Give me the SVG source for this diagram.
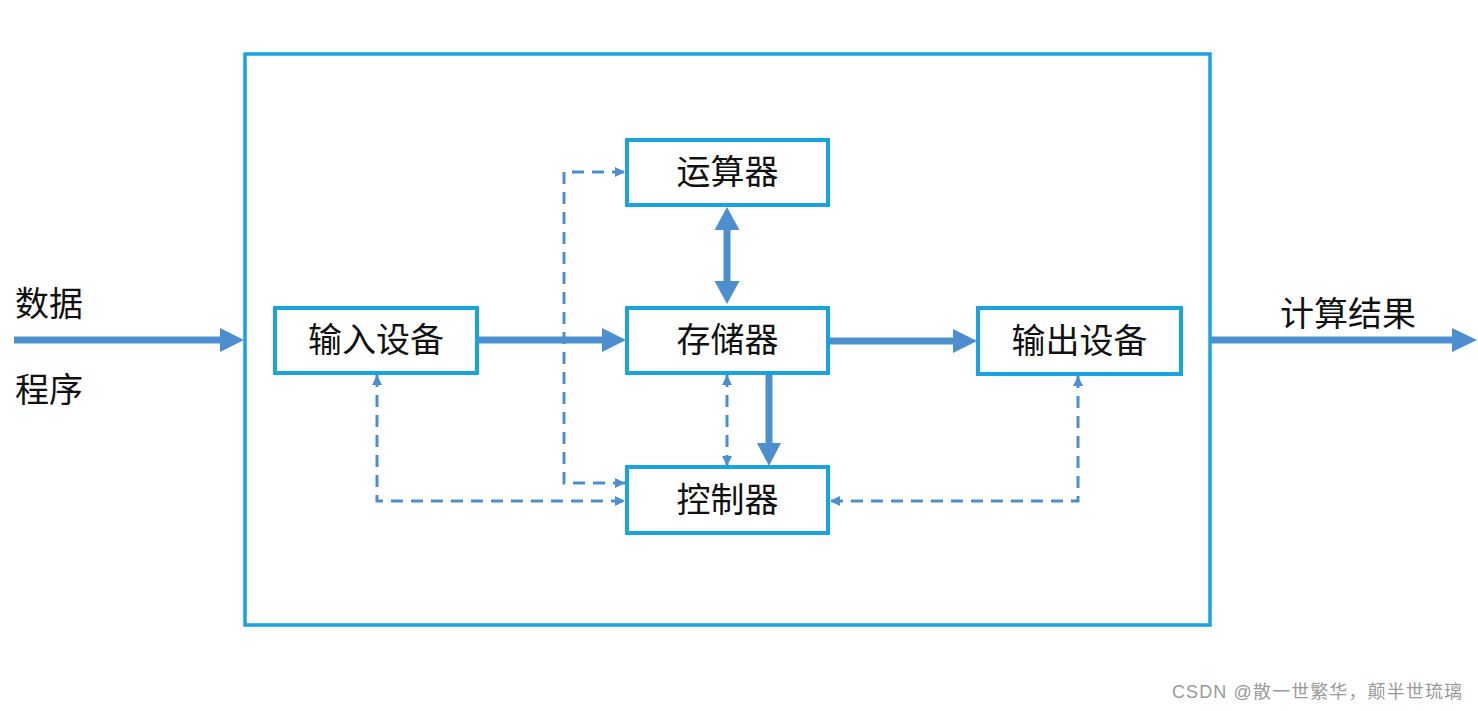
<svg xmlns="http://www.w3.org/2000/svg" width="1478" height="711" viewBox="0 0 1478 711">
<style>
.box{fill:#fff;stroke:#19a3e1;stroke-width:4}
.outer{fill:none;stroke:#19a3e1;stroke-width:3.5}
.lbl{font-family:"Liberation Sans","Noto Sans CJK SC",sans-serif;font-size:34px;fill:#111;text-anchor:middle}
.side{font-family:"Liberation Sans","Noto Sans CJK SC",sans-serif;font-size:34px;fill:#111}
.thick{stroke:#4d8fce;stroke-width:7;fill:none}
.head{fill:#4d8fce}
.dash{stroke:#4d8fce;stroke-width:3;fill:none;stroke-dasharray:12 8}
.wm{font-family:"Liberation Sans","Noto Sans CJK SC",sans-serif;font-size:18px;fill:#9a9a9a}
</style>
<defs>
<marker id="sm" markerUnits="userSpaceOnUse" markerWidth="10" markerHeight="10" refX="10" refY="5" orient="auto-start-reverse" viewBox="0 0 10 10">
<path d="M0,0 L10,5 L0,10 Z" fill="#4d8fce"/>
</marker>
</defs>
<rect width="1478" height="711" fill="#fff"/>
<rect class="outer" x="245" y="54" width="965" height="571"/>
<g id="connectors">
<line class="thick" x1="14" y1="340" x2="222" y2="340"/>
<polygon class="head" points="220,328 244,340 220,352"/>
<line class="thick" x1="477" y1="340" x2="604" y2="340"/>
<polygon class="head" points="602,328 626,340 602,352"/>
<line class="thick" x1="829" y1="341" x2="955" y2="341"/>
<polygon class="head" points="953,329 977,341 953,353"/>
<line class="thick" x1="1211" y1="340" x2="1454" y2="340"/>
<polygon class="head" points="1452,328 1477,340 1452,352"/>
<line class="thick" x1="727" y1="228" x2="727" y2="283"/>
<polygon class="head" points="714.5,230 727,207 739.5,230"/>
<polygon class="head" points="714.5,281 727,304 739.5,281"/>
<line class="thick" x1="769" y1="374" x2="769" y2="445"/>
<polygon class="head" points="757,443 769,466 781,443"/>
<path class="dash" d="M625,483 H564 V172 H625" marker-start="url(#sm)" marker-end="url(#sm)"/>
<path class="dash" d="M377,375 V501 H625" marker-start="url(#sm)" marker-end="url(#sm)"/>
<path class="dash" d="M727,375 V466" marker-start="url(#sm)" marker-end="url(#sm)"/>
<path class="dash" d="M1078,376 V501 H830" marker-start="url(#sm)" marker-end="url(#sm)"/>
</g>
<g id="alu"><rect class="box" x="627" y="140" width="201" height="65"/><text class="lbl" x="727.5" y="184">运算器</text></g>
<g id="memory"><rect class="box" x="627" y="308" width="201" height="65"/><text class="lbl" x="727.5" y="352">存储器</text></g>
<g id="control"><rect class="box" x="627" y="467" width="201" height="66"/><text class="lbl" x="727.5" y="512">控制器</text></g>
<g id="input"><rect class="box" x="275" y="308" width="202" height="65"/><text class="lbl" x="376" y="352">输入设备</text></g>
<g id="output"><rect class="box" x="978" y="308" width="203" height="66"/><text class="lbl" x="1079.5" y="353">输出设备</text></g>
<g id="labels">
<text class="side" x="15" y="316">数据</text>
<text class="side" x="15" y="402">程序</text>
<text class="side" x="1280" y="326">计算结果</text>
</g>
<text class="wm" x="1172" y="698" textLength="290" lengthAdjust="spacing">CSDN @散一世繁华，颠半世琉璃</text>
</svg>
